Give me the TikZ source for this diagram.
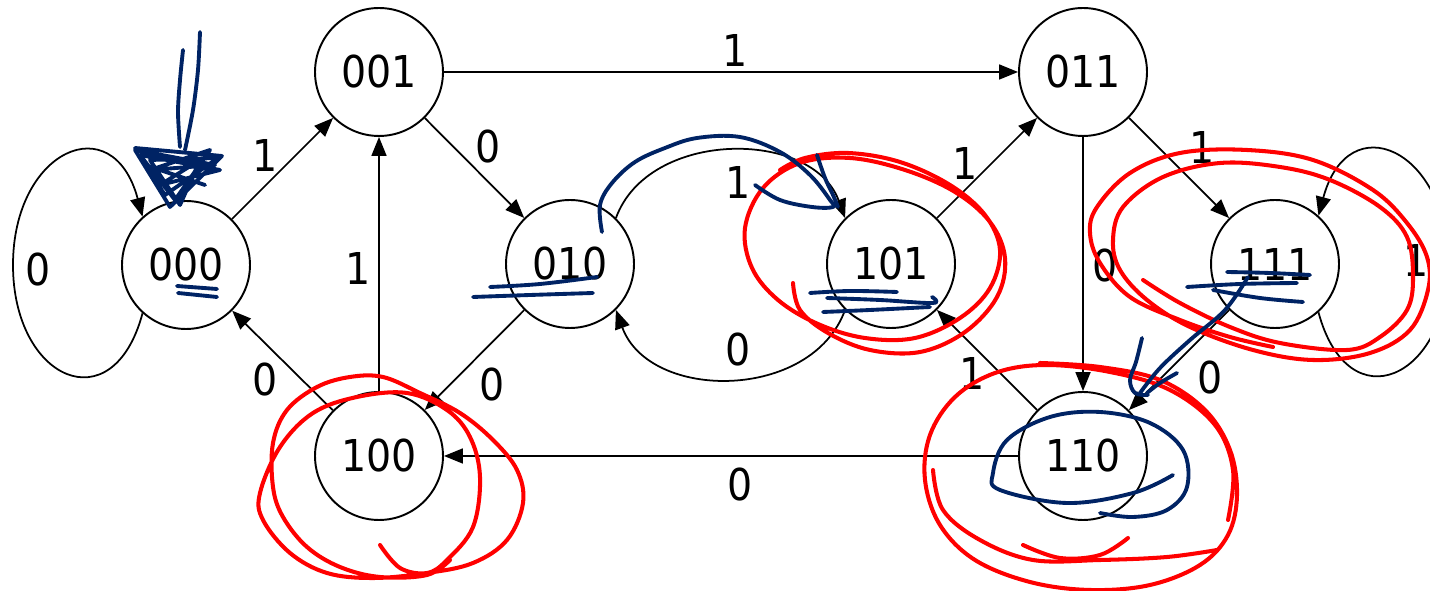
\documentclass[tikz,border=0pt]{standalone}
\usepackage{fontspec}
\setmainfont{DejaVu Sans Condensed}
\usetikzlibrary{arrows.meta,positioning}
\definecolor{ink}{RGB}{0,35,100}

\begin{document}
\begin{tikzpicture}[x=0.02cm, y=0.02cm,
    state/.style={circle, draw=black, line width=1.1pt, minimum size=2.56cm, inner sep=0pt, font=\fontsize{25}{29}\selectfont},
    lbl/.style={inner sep=0pt, font=\fontsize{25}{29}\selectfont},
    edge/.style={-{Triangle[length=0.38cm,width=0.3cm]}, line width=1pt},
    redink/.style={draw=red, line width=2.3pt, line cap=round, line join=round},
    blueink/.style={draw=ink, line width=2.2pt, line cap=round, line join=round}]

\useasboundingbox (0,0) rectangle (1430,591);

% States
\node[state] (s000) at (186,326) {000};
\node[state] (s001) at (379,519) {001};
\node[state] (s010) at (570,327) {010};
\node[state] (s100) at (379,135) {100};
\node[state] (s101) at (891,327) {101};
\node[state] (s011) at (1083,519) {011};
\node[state] (s110) at (1083,135) {110};
\node[state] (s111) at (1275,327) {111};

% Straight transitions
\draw[edge] (s000) -- (s001);
\draw[edge] (s001) -- (s011);
\draw[edge] (s001) -- (s010);
\draw[edge] (s010) -- (s100);
\draw[edge] (s100) -- (s000);
\draw[edge] (s100) -- (s001);
\draw[edge] (s101) -- (s011);
\draw[edge] (s011) -- (s111);
\draw[edge] (s011) -- (s110);
\draw[edge] (s111) -- (s110);
\draw[edge] (s110) -- (s101);
\draw[edge] (s110) -- (s100);

% Curved transitions between 010 and 101
\draw[edge] (s010.45) to[out=70, in=110, distance=1.9cm] (s101.135);
\draw[edge] (s101.225) to[out=250, in=290, distance=1.95cm] (s010.315);

% Self loops
\coordinate (l000) at (13,326);
\coordinate (l111) at (1448,327);
\draw[edge] (s000.228) to[out=255, in=270, distance=2.3cm] (l000) to[out=90, in=105, distance=2.3cm] (s000.132);
\draw[edge] (s111.312) to[out=285, in=270, distance=2.3cm] (l111) to[out=90, in=75, distance=2.3cm] (s111.48);

% Transition labels
\node[lbl] (w000a) at (38,321) {0};
\node[lbl] (w000b) at (265,436) {1};
\node[lbl] (w100a) at (265,211) {0};
\node[lbl] (w100b) at (358,323) {1};
\node[lbl] (w001a) at (488,444) {0};
\node[lbl] (w010a) at (492,206) {0};
\node[lbl] (w001b) at (735,541) {1};
\node[lbl] (w010b) at (738,409) {1};
\node[lbl] (w101a) at (738,241) {0};
\node[lbl] (w101b) at (965,428) {1};
\node[lbl] (w110a) at (972,218) {1};
\node[lbl] (w110b) at (740,106) {0};
\node[lbl] (w011a) at (1105,325) {0};
\node[lbl] (w011b) at (1202,444) {1};
\node[lbl] (w111a) at (1210,213) {0};
\node[lbl] (w111b) at (1416,331) {1};

% Hand-drawn marks (image pixel coordinates)
\begin{scope}[shift={(0,591)}, yscale=-1]
% red loops
\draw[redink] plot[smooth, tension=0.6] coordinates {(380,545) (400,568) (427,573) (447,560) (473,527) (480,477) (470,437) (447,410) (407,393) (357,397) (313,413) (280,447) (260,493) (263,520) (290,553) (327,573) (373,578) (427,573) (473,563) (507,540) (523,503) (517,470) (493,440) (460,413) (420,393) (383,377) (350,377) (317,387) (287,410) (273,443) (273,487) (283,517) (307,547) (340,567) (380,577) (427,575) (450,560)};
\draw[redink] plot[smooth, tension=0.6] coordinates {(793,283) (800,310) (828,333) (870,350) (920,352) (965,332) (997,297) (1005,258) (990,222) (955,192) (905,170) (850,158) (800,163) (763,188) (745,228) (752,268) (778,300) (818,324) (865,338) (915,338) (960,318) (990,288) (1000,250) (985,215) (950,185) (900,162) (848,153) (805,158) (780,170)};
\draw[redink] plot[smooth, tension=0.6] coordinates {(1143,280) (1180,303) (1230,327) (1280,343) (1347,350) (1380,337) (1407,310) (1413,277) (1407,237) (1380,207) (1330,180) (1280,167) (1220,163) (1163,177) (1123,207) (1113,240) (1120,270) (1147,300) (1190,327) (1253,350) (1313,360) (1370,353) (1410,330) (1428,290) (1427,257) (1407,223) (1373,190) (1313,160) (1247,150) (1180,153) (1130,173) (1097,207) (1090,233) (1100,263) (1130,297) (1180,320) (1230,337) (1273,347)};
\draw[redink] plot[smooth, tension=0.6] coordinates {(1040,363) (1100,367) (1160,380) (1205,410) (1230,450) (1237,495) (1228,535) (1200,565) (1150,585) (1090,590) (1030,582) (975,560) (940,525) (925,480) (930,435) (955,397) (995,373) (1045,365) (1110,372) (1170,390) (1215,425) (1233,470) (1228,520)};
\draw[redink] plot[smooth, tension=0.6] coordinates {(933,470) (943,510) (980,540) (1033,560) (1100,560) (1167,557) (1217,550)};
\draw[redink] plot[smooth, tension=0.6] coordinates {(1023,545) (1060,558) (1100,555) (1128,538)};
% blue marks
\draw[blueink] plot[smooth, tension=0.5] coordinates {(183,50) (180,80) (178,112) (180,147)};
\draw[blueink] plot[smooth, tension=0.5] coordinates {(200,32) (198,70) (193,110) (185,150)};
\draw[blueink] (135,148) -- (222,156) -- (170,207) -- (135,150) -- (215,165) -- (150,170) -- (210,150) -- (175,200) -- (140,155) -- (220,170) -- (160,185) -- (200,160) -- (180,205) -- (150,160) -- (218,158) -- (165,195) -- (145,165) -- (205,185);
\draw[blueink] (177,286) -- (217,289);
\draw[blueink] (178,293) -- (217,297);
\draw[blueink] plot[smooth, tension=0.6] coordinates {(602,232) (600,205) (612,183) (635,162) (665,148) (697,138) (740,137) (780,152) (810,175) (830,200) (833,207) (812,207) (780,200) (755,185)};
\draw[blueink] plot[smooth, tension=0.6] coordinates {(817,155) (825,178) (833,195) (838,207)};
\draw[blueink] plot[smooth, tension=0.6] coordinates {(490,287) (540,284) (597,277)};
\draw[blueink] plot[smooth, tension=0.6] coordinates {(473,297) (530,295) (593,293)};
\draw[blueink] plot[smooth, tension=0.6] coordinates {(810,293) (850,291) (897,292)};
\draw[blueink] plot[smooth, tension=0.6] coordinates {(827,298) (880,300) (933,303) (932,297)};
\draw[blueink] plot[smooth, tension=0.6] coordinates {(823,312) (870,310) (930,307)};
\draw[blueink] plot[smooth, tension=0.6] coordinates {(1227,272) (1270,273) (1310,275)};
\draw[blueink] plot[smooth, tension=0.6] coordinates {(1187,287) (1240,284) (1297,283)};
\draw[blueink] plot[smooth, tension=0.6] coordinates {(1213,290) (1260,298) (1303,302)};
\draw[blueink] plot[smooth, tension=0.6] coordinates {(1248,277) (1225,310) (1190,340) (1160,368) (1140,393)};
\draw[blueink] plot[smooth, tension=0.6] coordinates {(1177,373) (1160,383) (1147,393)};
\draw[blueink] plot[smooth, tension=0.6] coordinates {(1142,338) (1136,362) (1130,380) (1135,393) (1148,395)};
\draw[blueink] plot[smooth, tension=0.6] coordinates {(1173,475) (1133,493) (1067,503) (1000,490) (993,473) (1007,440) (1050,417) (1100,412) (1150,423) (1183,450) (1187,487) (1167,510) (1133,517) (1100,513)};
\end{scope}

\end{tikzpicture}
\end{document}
